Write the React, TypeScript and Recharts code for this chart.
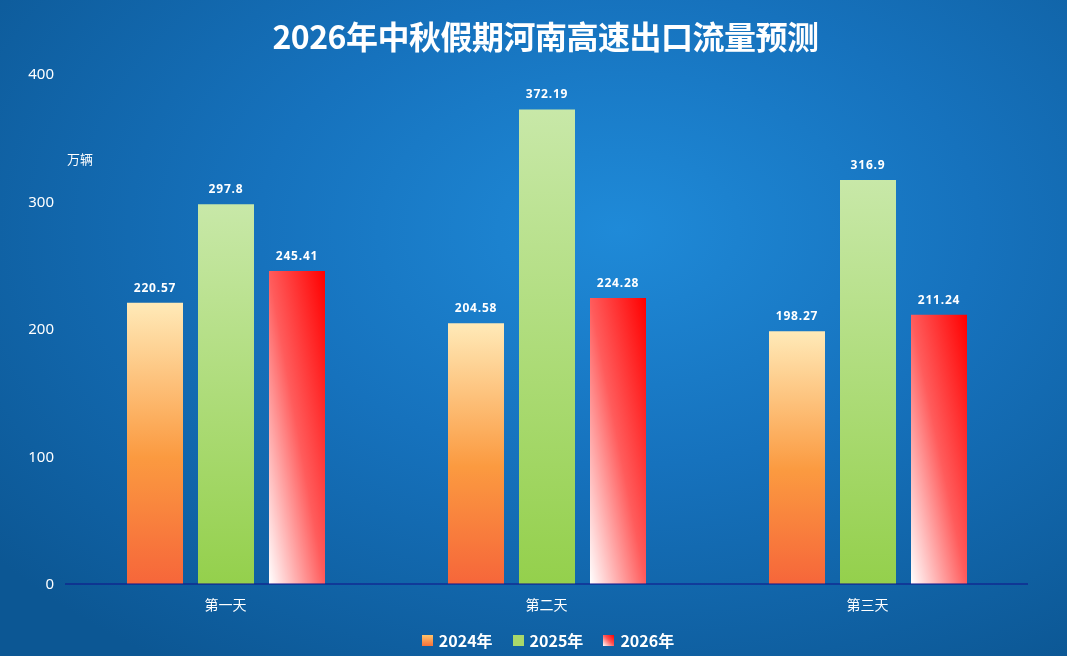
import React from 'react';
import { BarChart, Bar, XAxis, YAxis, Legend, LabelList } from 'recharts';

const days = ['第一天', '第二天', '第三天'];
const y2024 = [220.57, 204.58, 198.27];
const y2025 = [297.8, 372.19, 316.9];
const y2026 = [245.41, 224.28, 211.24];
const yTicks = [0, 100, 200, 300, 400];

const series = [
  { key: '2024年', fill: 'url(#g2024)', swatch: 'linear-gradient(to bottom, #ffc46a, #f7703a)' },
  { key: '2025年', fill: 'url(#g2025)', swatch: '#a8d86a' },
  { key: '2026年', fill: 'url(#g2026)', swatch: 'linear-gradient(45deg, #ffffff, #ff5050 55%, #ff0000)' },
];

const chartData = days.map((d, i) => ({
  day: d,
  '2024年': y2024[i],
  '2025年': y2025[i],
  '2026年': y2026[i],
}));

const labelStyle = {
  fill: '#ffffff',
  fontSize: 12,
  fontWeight: 700,
  fontFamily: '"Noto Sans", sans-serif',
  letterSpacing: 0.8,
};

function LegendContent() {
  return (
    <div style={{ display: 'flex', justifyContent: 'center', gap: 20, marginLeft: 68 }}>
      {series.map(s => (
        <div key={s.key} style={{ display: 'flex', alignItems: 'center', gap: 6 }}>
          <span style={{ width: 11, height: 11, background: s.swatch, display: 'inline-block' }} />
          <span style={{ color: '#fff', fontWeight: 700, fontSize: 16, fontFamily: '"Noto Sans CJK SC", sans-serif' }}>{s.key}</span>
        </div>
      ))}
    </div>
  );
}

export default function App() {
  return (
    <div
      style={{
        position: 'fixed',
        left: 0,
        top: 0,
        width: 1067,
        height: 656,
        background: 'radial-gradient(ellipse 75% 80% at 58% 35%, #1f8ad8 0%, #1672bd 45%, #0c5794 100%)',
        fontFamily: '"Noto Sans CJK SC", "Noto Sans", sans-serif',
      }}
    >
      <div
        style={{
          position: 'absolute',
          top: 12,
          left: 12,
          width: 1067,
          textAlign: 'center',
          color: '#fff',
          fontSize: 32,
          lineHeight: '46px',
          fontWeight: 700,
          letterSpacing: -0.5,
        }}
      >
        2026年中秋假期河南高速出口流量预测
      </div>
      <div style={{ position: 'absolute', left: 67, top: 149, color: '#fff', fontSize: 13 }}>万辆</div>
      <BarChart
        width={1067}
        height={656}
        data={chartData}
        margin={{ top: 74, right: 39, left: 0, bottom: 12 }}
        barSize={56}
        barGap={15}
      >
        <defs>
          <linearGradient id="g2024" x1="0" y1="0" x2="0" y2="1">
            <stop offset="0%" stopColor="#ffeab8" />
            <stop offset="55%" stopColor="#fb9a40" />
            <stop offset="100%" stopColor="#f6663a" />
          </linearGradient>
          <linearGradient id="g2025" x1="0" y1="0" x2="0" y2="1">
            <stop offset="0%" stopColor="#c8e8a8" />
            <stop offset="100%" stopColor="#94d04c" />
          </linearGradient>
          <linearGradient id="g2026" x1="0" y1="1" x2="1" y2="0">
            <stop offset="0%" stopColor="#ffffff" />
            <stop offset="50%" stopColor="#ff5c5c" />
            <stop offset="100%" stopColor="#ff0000" />
          </linearGradient>
        </defs>
        <XAxis
          dataKey="day"
          height={30}
          axisLine={{ stroke: '#10108a', strokeWidth: 1.2 }}
          tickLine={false}
          tickMargin={10}
          tick={{ fill: '#ffffff', fontSize: 14, fontFamily: '"Noto Sans CJK SC", sans-serif' }}
        />
        <YAxis
          domain={[0, 400]}
          ticks={yTicks}
          width={65}
          axisLine={false}
          tickLine={false}
          tickSize={0}
          tickMargin={11}
          tick={{ fill: '#ffffff', fontSize: 15, fontFamily: '"Noto Sans", sans-serif' }}
        />
        <Legend verticalAlign="bottom" height={30} content={<LegendContent />} wrapperStyle={{ bottom: -2 }} />
        {series.map(s => (
          <Bar key={s.key} dataKey={s.key} fill={s.fill} isAnimationActive={false}>
            <LabelList dataKey={s.key} position="top" offset={11} style={labelStyle} />
          </Bar>
        ))}
      </BarChart>
    </div>
  );
}
